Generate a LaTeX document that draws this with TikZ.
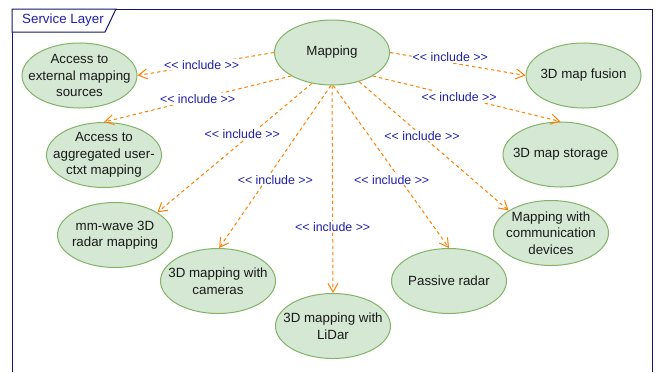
\documentclass[tikz,border=0pt]{standalone}
\usepackage{fontspec}
\setmainfont{Liberation Sans}
\usepackage{xcolor}
\usepackage{tikz}
\usetikzlibrary{shapes.geometric,arrows.meta}

\definecolor{ucfill}{HTML}{D5E8D4}
\definecolor{ucline}{HTML}{82B366}
\definecolor{depline}{HTML}{FF8000}
\definecolor{incltext}{HTML}{1F1FA6}
\definecolor{frameline}{HTML}{14146E}
\newcommand{\inctext}{<\kern0pt< include >\kern0pt>}

\tikzset{
  usecase/.style={ellipse, draw=ucline, fill=ucfill, line width=0.75pt,
    minimum width=86.25pt, minimum height=48.75pt, inner xsep=-9pt, inner ysep=-2pt,
    align=center, text=black!90, font=\fontsize{10}{12.4}\selectfont},
  incl/.style={fill=white, inner sep=0.8pt, text=incltext, font=\fontsize{9.3}{11}\selectfont},
  dep/.style={depline, line width=0.75pt, dash pattern=on 2.6pt off 2.2pt,
    -{Straight Barb[length=6.5pt,width=7.5pt]}}
}

\begin{document}
\begin{tikzpicture}[x=0.75pt,y=-0.75pt]
\useasboundingbox (0,0) rectangle (656,372);
\draw[frameline, line width=0.75pt] (12,372)--(12,9)--(652,9)--(652,372);
\draw[frameline, line width=0.75pt, fill=white] (12,9)--(116,9)--(105,32)--(12,32)--cycle;
\node[text=incltext, font=\fontsize{10}{12}\selectfont] (title) at (63,20.5) {Service Layer};

\node[usecase] (map) at (332,52.5) {Mapping};
\node[usecase] (ext) at (79.5,75.5) {Access to\\external mapping\\sources};
\node[usecase] (agg) at (104,155) {Access to\\aggregated user-\\ctxt mapping};
\node[usecase] (fus) at (583.5,75.5) {3D map fusion};
\node[usecase] (sto) at (560.5,154.5) {3D map storage};
\node[usecase] (mmw) at (115,235) {mm-wave 3D\\radar mapping};
\node[usecase] (cam) at (218,281) {3D mapping with\\cameras};
\node[usecase] (lid) at (333,326) {3D mapping with\\LiDar};
\node[usecase] (pas) at (449,281) {Passive radar};
\node[usecase] (com) at (551,233) {Mapping with\\communication\\devices};

\draw[dep] (map.180) -- node[incl, pos=0.53] (l1) {\inctext} (ext.0);
\draw[dep] (map.210) -- node[incl, pos=0.5] (l2) {\inctext} (agg.90);
\draw[dep] (map.237) -- node[incl, pos=0.39, xshift=-7pt] (l3) {\inctext} (mmw.28);
\draw[dep] (map.268) -- node[incl, pos=0.58, xshift=7pt] (l4) {\inctext} (cam.88);
\draw[dep] (map.270) -- node[incl, pos=0.68] (l5) {\inctext} (lid.90);
\draw[dep] (map.272) -- node[incl, pos=0.58, xshift=-6.5pt] (l6) {\inctext} (pas.90);
\draw[dep] (map.313) -- node[incl, pos=0.42] (l7) {\inctext} (com.152);
\draw[dep] (map.330) -- node[incl, pos=0.46] (l8) {\inctext} (sto.90);
\draw[dep] (map.0) -- node[incl, pos=0.445, yshift=4.3pt] (l9) {\inctext} (fus.180);
\end{tikzpicture}
\end{document}
